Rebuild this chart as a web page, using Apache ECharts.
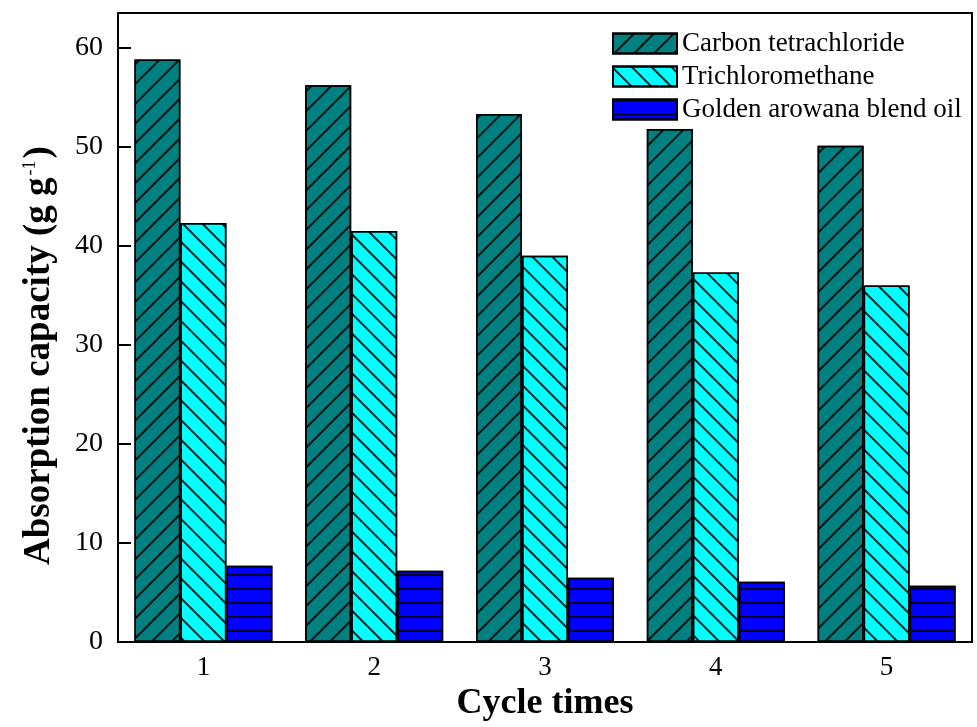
<!DOCTYPE html>
<html>
<head>
<meta charset="utf-8">
<script src="https://cdn.jsdelivr.net/npm/echarts@6/dist/echarts.min.js"></script>
<style>
  html, body { margin: 0; padding: 0; background: #fff; }
  #chart { width: 977px; height: 727px; }
</style>
</head>
<body>
<div id="chart"></div>
<script>
"use strict";

var cycles = ['1', '2', '3', '4', '5'];
var carbon = [58.8, 56.2, 53.3, 51.8, 50.1];
var trichloro = [42.3, 41.5, 39.0, 37.3, 36.0];
var golden = [7.7, 7.2, 6.5, 6.1, 5.7];
var yTicks = [0, 10, 20, 30, 40, 50, 60];

var font = '"Liberation Serif", "Times New Roman", serif';

function hatch(rot) {
	return {
		symbol: 'rect',
		symbolSize: 1,
		color: 'rgba(0,0,0,0.85)',
		dashArrayX: [1, 0],
		dashArrayY: [1.2, 11.8],
		rotation: rot
	};
}

function bar(name, data, colour, rot) {
	return {
		name: name,
		type: 'bar',
		data: data,
		barWidth: 46,
		barGap: '0%',
		itemStyle: {
			color: colour,
			borderColor: '#000',
			borderWidth: 1.5,
			decal: hatch(rot)
		}
	};
}

var chart = echarts.init(document.getElementById('chart'));
chart.setOption({
	animation: false,
	textStyle: { fontFamily: font, color: '#000' },
	grid: {
		left: 118, right: 5, top: 13, bottom: 82,
		show: true, borderColor: '#000', borderWidth: 2
	},
	legend: {
		orient: 'vertical',
		left: 607,
		top: 25,
		icon: 'rect',
		itemWidth: 64,
		itemHeight: 20,
		itemGap: 6,
		textStyle: { fontFamily: font, fontSize: 27, color: '#000', lineHeight: 27 },
		data: ['Carbon tetrachloride', 'Trichloromethane', 'Golden arowana blend oil']
	},
	xAxis: {
		type: 'category',
		data: cycles,
		name: 'Cycle times',
		nameLocation: 'middle',
		nameGap: 31,
		nameTextStyle: { fontFamily: font, fontSize: 36, fontWeight: 'bold', color: '#000' },
		axisLine: { lineStyle: { color: '#000', width: 2 } },
		axisTick: { inside: true, alignWithLabel: true, length: 12, lineStyle: { width: 2 } },
		axisLabel: { fontFamily: font, fontSize: 27, color: '#000', margin: 12 }
	},
	yAxis: {
		type: 'value',
		min: 0,
		max: 63.5,
		interval: 10,
		name: 'Absorption capacity (g g{sup|-1})',
		nameLocation: 'middle',
		nameGap: 60,
		nameTextStyle: {
			fontFamily: font, fontSize: 37, fontWeight: 'bold', color: '#000',
			padding: [0, 56, 0, 0],
			rich: {
				sup: { fontFamily: font, fontSize: 18, fontWeight: 'normal', verticalAlign: 'top', padding: [0, 2, 16, 2] }
			}
		},
		splitLine: { show: false },
		axisLine: { show: true, lineStyle: { color: '#000', width: 2 } },
		axisTick: { show: true, inside: true, length: 13, lineStyle: { width: 2 } },
		axisLabel: {
			fontFamily: font, fontSize: 28, color: '#000', margin: 15,
			showMaxLabel: false,
			formatter: function (v) { return yTicks.indexOf(v) >= 0 ? String(v) : ''; }
		}
	},
	series: [
		bar('Carbon tetrachloride', carbon, '#008080', -Math.PI / 4),
		bar('Trichloromethane', trichloro, '#00FFFF', Math.PI / 4),
		bar('Golden arowana blend oil', golden, '#0000FF', 0)
	]
});
</script>
</body>
</html>
